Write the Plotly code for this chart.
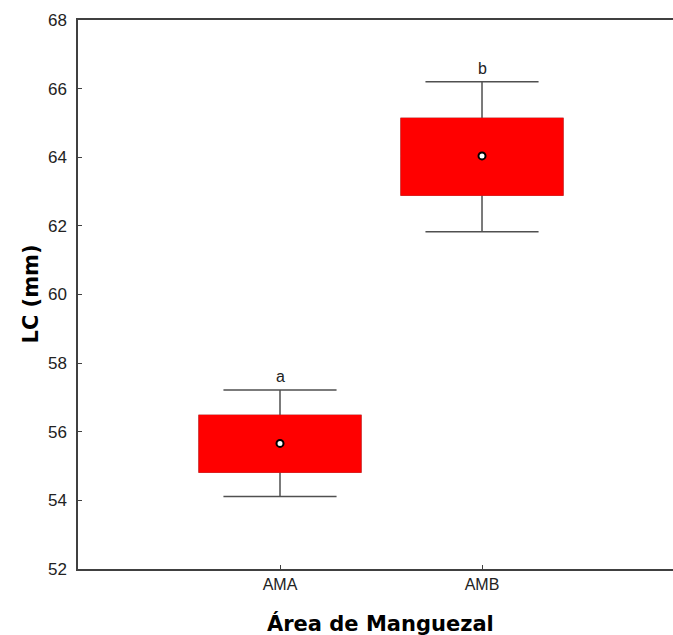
import plotly.graph_objects as go

categories = ["AMA", "AMB"]
means = [55.66, 64.04]
box_low = [54.83, 62.90]
box_high = [56.47, 65.13]
whisker_low = [54.11, 61.83]
whisker_high = [57.22, 66.20]
letters = ["a", "b"]
y_ticks = [52, 54, 56, 58, 60, 62, 64, 66, 68]

FONT = "Arial, Liberation Sans, sans-serif"
TITLE_FONT = "DejaVu Sans, Arial, sans-serif"
RED = "#ff0000"
GREY = "#505050"

fig = go.Figure()

# whiskers with caps (box outline hidden by next trace)
fig.add_trace(go.Box(
    x=categories, q1=box_low, median=means, q3=box_high,
    lowerfence=whisker_low, upperfence=whisker_high,
    width=0.8, whiskerwidth=0.7, boxpoints=False,
    fillcolor=RED, line=dict(color=GREY, width=1.5),
    hoverinfo="skip", showlegend=False,
))
# red box on top
fig.add_trace(go.Box(
    x=categories, q1=box_low, median=means, q3=box_high,
    lowerfence=box_low, upperfence=box_high,
    width=0.8, whiskerwidth=0.0, boxpoints=False,
    fillcolor=RED, line=dict(color=RED, width=1.5),
    showlegend=False,
))
# mean marker
fig.add_trace(go.Scatter(
    x=categories, y=means, mode="markers",
    marker=dict(symbol="circle", size=7, color="white",
                line=dict(color="black", width=2)),
    showlegend=False,
))

for c, top, lab in zip(categories, whisker_high, letters):
    fig.add_annotation(x=c, y=top, text=lab, showarrow=False,
                       yanchor="bottom", yshift=3,
                       font=dict(family=FONT, size=16, color="#222222"))

# axis titles
fig.add_annotation(xref="paper", yref="paper", x=0.508, y=0,
                   xanchor="center", yanchor="middle", yshift=-54,
                   text="<b>Área de Manguezal</b>", showarrow=False,
                   font=dict(family=TITLE_FONT, size=21, color="black"))
fig.add_annotation(xref="paper", yref="paper", x=0, y=0.5,
                   xanchor="center", yanchor="middle", xshift=-48,
                   textangle=-90, text="<b>LC (mm)</b>", showarrow=False,
                   font=dict(family=TITLE_FONT, size=21, color="black"))

fig.update_layout(
    width=673, height=635,
    margin=dict(l=78, r=0, t=20, b=66),
    paper_bgcolor="white", plot_bgcolor="white",
    boxmode="overlay",
    font=dict(family=FONT, color="#222222"),
    xaxis=dict(
        type="category", range=[-1, 1.9455],
        showgrid=False, zeroline=False,
        showline=True, linecolor="#404040", linewidth=1.5, mirror=True,
        ticks="inside", ticklen=4, tickcolor="#404040", tickwidth=1,
        tickfont=dict(family=FONT, size=16, color="#222222"),
        automargin=False,
    ),
    yaxis=dict(
        range=[52, 68], tickvals=y_ticks,
        showgrid=False, zeroline=False,
        showline=True, linecolor="#404040", linewidth=1.5,
        ticks="inside", ticklen=4, tickcolor="#404040", tickwidth=1,
        ticklabelstandoff=6,
        tickfont=dict(family=FONT, size=17, color="#222222"),
        automargin=False,
    ),
)

fig.write_html("out.html",
               config={"displayModeBar": False},
               post_script="document.body.style.margin='0';document.body.style.overflow='hidden';")
